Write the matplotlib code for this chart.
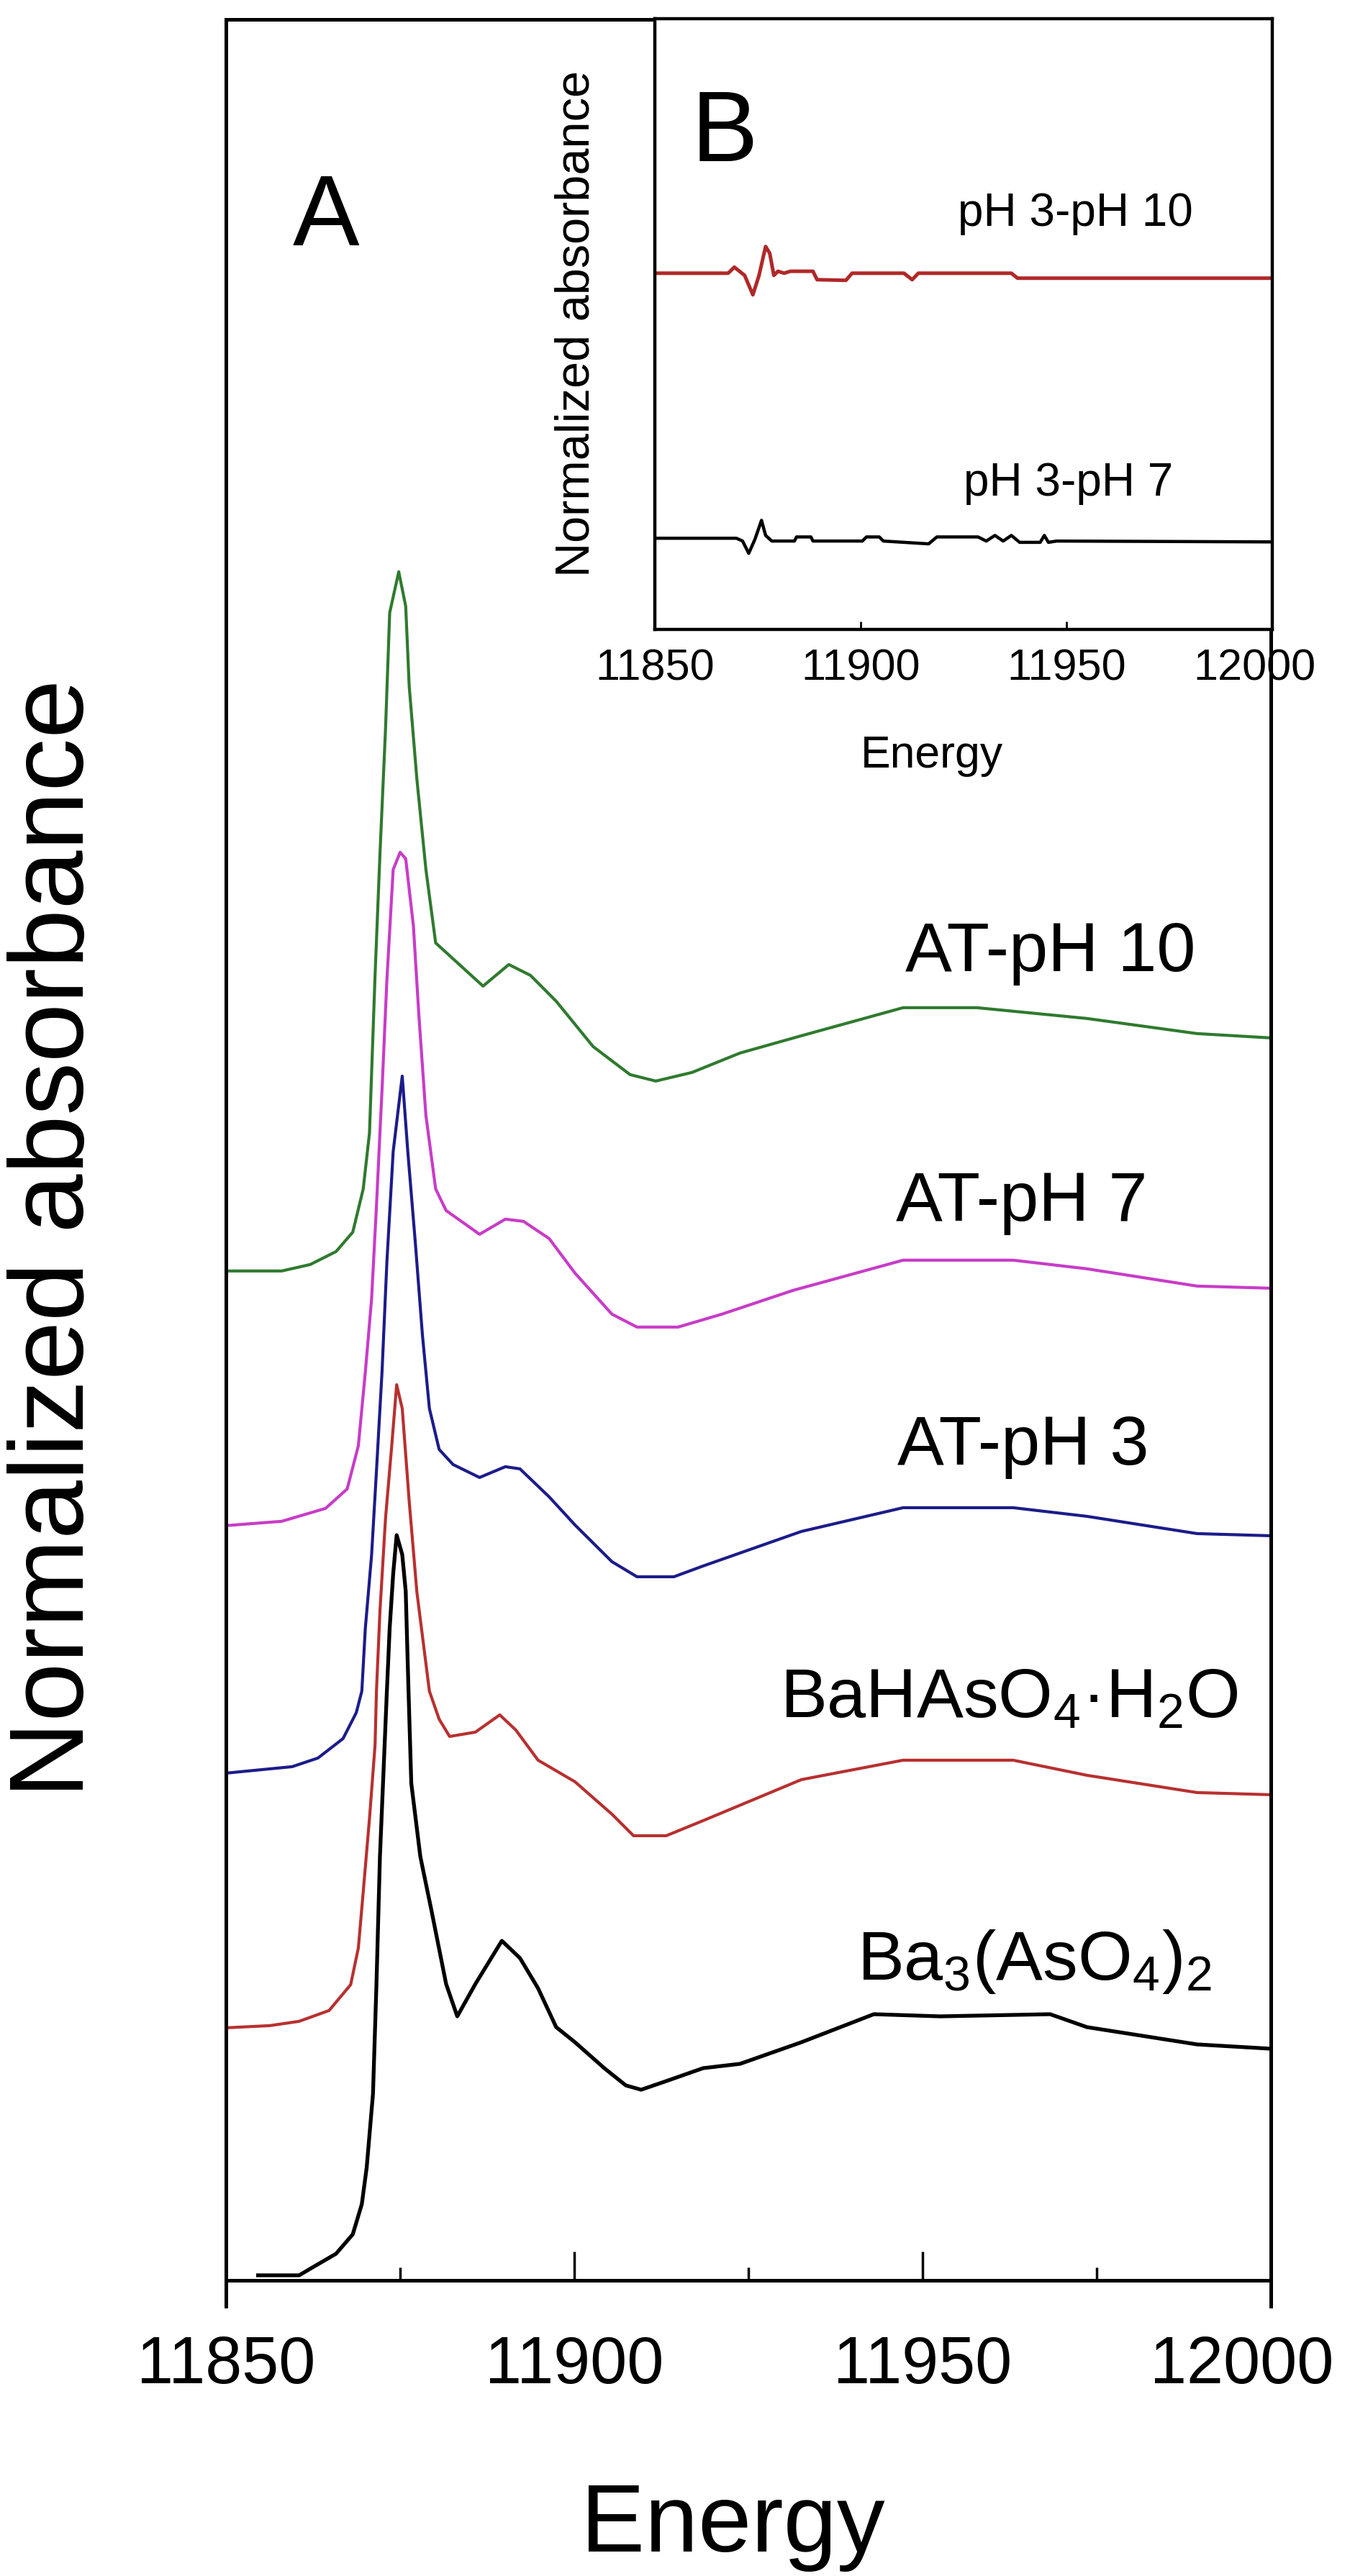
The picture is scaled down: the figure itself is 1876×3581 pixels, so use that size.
# As K-edge XANES, stacked spectra + difference inset

import numpy as np
import matplotlib
matplotlib.use('Agg')
import matplotlib.pyplot as plt
import matplotlib.transforms as mtransforms

plt.rcParams['font.family'] = ['Liberation Sans', 'DejaVu Sans']
plt.rcParams['mathtext.default'] = 'regular'

# ---- main panel data (energy in eV, absorbance above each baseline) ----
green_E = [11850, 11858, 11862.1, 11865.8, 11868.2, 11869.7, 11870.6, 11871.4, 11872.1, 11872.9,
           11873.5, 11874.8, 11875.8, 11876.3, 11877.4, 11878.7, 11880.1, 11886.9, 11890.6, 11893.7,
           11897.4, 11902.7, 11908.0, 11911.7, 11916.9, 11923.8, 11932.6, 11947.2, 11957.8, 11973.6,
           11989.4, 12000]
green_A = [0, 0, 0.03, 0.09, 0.18, 0.38, 0.64, 1.37, 1.93, 2.51, 3.05, 3.24, 3.08, 2.71, 2.28, 1.86,
           1.52, 1.32, 1.42, 1.37, 1.25, 1.04, 0.91, 0.88, 0.92, 1.01, 1.09, 1.22, 1.22, 1.17, 1.10, 1.08]

magenta_E = [11850, 11858, 11864.3, 11867.4, 11869.0, 11870.0, 11870.9, 11871.6, 11872.1, 11872.4,
             11873.1, 11874.0, 11875.0, 11875.8, 11876.9, 11877.7, 11878.7, 11880.1, 11881.6, 11886.4,
             11890.1, 11892.7, 11896.4, 11900.1, 11905.4, 11909.0, 11914.9, 11921.2, 11931.4, 11947.2,
             11963.0, 11973.6, 11989.4, 12000]
magenta_A = [0, 0.02, 0.08, 0.17, 0.37, 0.71, 1.05, 1.48, 1.82, 2.02, 2.53, 3.04, 3.12, 3.09, 2.78, 2.36,
             1.90, 1.56, 1.46, 1.35, 1.42, 1.41, 1.33, 1.17, 0.98, 0.92, 0.92, 0.98, 1.09, 1.23, 1.23,
             1.19, 1.11, 1.10]

blue_E = [11850, 11859.5, 11863.2, 11866.8, 11868.7, 11869.5, 11870.0, 11870.9, 11871.6, 11872.4,
          11873.1, 11874.0, 11875.3, 11876.1, 11877.2, 11878.2, 11879.2, 11880.6, 11882.6, 11886.4,
          11890.1, 11892.2, 11896.4, 11900.1, 11905.4, 11909.0, 11914.3, 11918.5, 11932.6, 11947.2,
          11963.0, 11973.6, 11989.4, 12000]
blue_A = [0, 0.03, 0.07, 0.16, 0.28, 0.38, 0.67, 1.01, 1.40, 1.86, 2.37, 2.88, 3.23, 2.88, 2.45, 2.03,
          1.69, 1.50, 1.43, 1.37, 1.42, 1.41, 1.28, 1.15, 0.98, 0.91, 0.91, 0.96, 1.12, 1.23, 1.23,
          1.19, 1.11, 1.10]

red_E = [11850, 11856.3, 11860.5, 11864.8, 11867.9, 11869.0, 11869.7, 11870.6, 11871.4, 11871.6,
         11872.1, 11872.9, 11873.8, 11874.5, 11875.3, 11876.3, 11877.4, 11879.2, 11880.6, 11882.1,
         11885.8, 11889.3, 11891.6, 11894.8, 11900.1, 11905.4, 11908.5, 11913.2, 11918.5, 11932.6,
         11947.2, 11963.0, 11973.6, 11989.4, 12000]
red_A = [0, 0.01, 0.03, 0.08, 0.20, 0.37, 0.63, 0.97, 1.31, 1.56, 1.93, 2.36, 2.70, 2.98, 2.87, 2.44,
         2.02, 1.56, 1.43, 1.35, 1.37, 1.45, 1.38, 1.24, 1.14, 0.99, 0.89, 0.89, 0.96, 1.15, 1.24,
         1.24, 1.17, 1.09, 1.08]

black_E = [11854.6, 11860.5, 11862.6, 11865.8, 11868.2, 11869.5, 11870.2, 11871.1, 11871.6, 11872.1,
           11873.1, 11873.5, 11874.0, 11874.5, 11875.3, 11875.8, 11876.2, 11876.6, 11877.9, 11879.5,
           11881.6, 11883.2, 11885.8, 11889.6, 11892.2, 11894.8, 11897.4, 11900.1, 11904.3, 11907.4,
           11909.6, 11913.2, 11918.5, 11923.8, 11932.6, 11943.0, 11952.5, 11968.3, 11973.6, 11989.4,
           12000]
black_A = [0, 0, 0.04, 0.10, 0.19, 0.33, 0.50, 0.84, 1.35, 1.94, 2.71, 3.00, 3.25, 3.43, 3.34, 3.17,
           2.71, 2.28, 1.94, 1.69, 1.35, 1.20, 1.35, 1.55, 1.47, 1.33, 1.15, 1.08, 0.96, 0.88, 0.86,
           0.90, 0.96, 0.98, 1.08, 1.21, 1.20, 1.21, 1.15, 1.07, 1.05]

offsets = [4.677, 3.497, 2.35, 1.17, 0.023]
colors = ['#2f7a2f', '#c83cc8', '#1c1c8a', '#b83030', 'black']
widths = [3.0, 3.0, 3.0, 3.0, 3.8]

# ---- inset data (difference spectra) ----
d10_E = [11850, 11867.8, 11869.3, 11871.8, 11873.8, 11875.3, 11876.9, 11877.9, 11878.9, 11879.9,
         11881.4, 11882.9, 11888.4, 11889.4, 11896.4, 11897.9, 11910.5, 11912.5, 11914.0, 11936.6,
         11938.1, 12000]
d10_A = [0, 0, 0.028, -0.01, -0.10, -0.01, 0.124, 0.092, -0.01, 0.009, 0, 0.009, 0.009, -0.03,
         -0.033, 0, 0, -0.03, 0, 0, -0.023, -0.023]

d7_E = [11850, 11869.8, 11871.3, 11872.8, 11874.3, 11875.9, 11876.9, 11878.4, 11883.9, 11884.4,
        11887.9, 11888.4, 11900.4, 11901.4, 11904.5, 11905.5, 11916.5, 11918.5, 11928.5, 11930.5,
        11932.6, 11934.6, 11936.6, 11938.6, 11943.6, 11944.6, 11945.6, 11947.6, 12000]
d7_A = [0.005, 0.005, -0.008, -0.065, 0.0, 0.088, 0.018, -0.008, -0.008, 0.011, 0.011, -0.008,
        -0.008, 0.011, 0.011, -0.008, -0.021, 0.011, 0.011, -0.008, 0.018, -0.008, 0.018, -0.014,
        -0.014, 0.018, -0.014, -0.008, -0.012]

fig = plt.figure(figsize=(18.76, 35.81), dpi=100)

# main panel
ax = fig.add_axes([0.1674, 0.1148, 0.774, 0.8777])
for E, A, off, c, lw in zip([green_E, magenta_E, blue_E, red_E, black_E],
                            [green_A, magenta_A, blue_A, red_A, black_A],
                            offsets, colors, widths):
    ax.plot(E, np.array(A) + off, color=c, lw=lw)

ax.set_xlim(11850, 12000)
ax.set_ylim(0, 10.477)
ax.set_xticks([11850, 11900, 11950, 12000])
ax.set_xticks([11875, 11925, 11975], minor=True)
ax.set_yticks([])
ax.tick_params(axis='x', which='major', direction='in', length=29, width=2.5,
               labelsize=66, pad=55)
ax.tick_params(axis='x', which='minor', direction='in', length=13, width=2.5)
for s in ax.spines.values():
    s.set_linewidth(3.6)
ax.spines['left'].set_bounds(-0.12, 10.477)
ax.spines['right'].set_bounds(-0.12, 10.477)

# last tick label sits a bit to the left so it stays inside the figure
lab = ax.get_xticklabels()[-1]
lab.set_transform(lab.get_transform() + mtransforms.ScaledTranslation(-0.40, 0, fig.dpi_scale_trans))

ax.set_xlabel('Energy', fontsize=96)
ax.xaxis.label.set_va('baseline')
ax.xaxis.set_label_coords(0.485, -0.12)
ax.set_ylabel('Normalized absorbance', fontsize=106)
ax.yaxis.label.set(ha='center', va='center')
ax.yaxis.set_label_coords(-0.1625, 0.4607)

ax.text(0.064, 0.90, 'A', transform=ax.transAxes, fontsize=100, va='baseline')

lab_kw = dict(fontsize=70, ha='left', va='baseline')
ax.text(11947.5, 6.067, 'AT-pH 10', **lab_kw)
ax.text(11946.2, 4.91, 'AT-pH 7', **lab_kw)
ax.text(11946.4, 3.78, 'AT-pH 3', **lab_kw)
ax.text(11929.5, 2.607, 'BaHAsO$_4$·H$_2$O', **lab_kw)
ax.text(11940.6, 1.393, 'Ba$_3$(AsO$_4$)$_2$', **lab_kw)

# inset B
axin = fig.add_axes([0.4851, 0.7557, 0.4574, 0.2371])
axin.plot(d10_E, np.array(d10_A) + 1.65, color='#b02828', lw=3.6)
axin.plot(d7_E, np.array(d7_A) + 0.417, color='black', lw=3.2)
axin.set_xlim(11850, 12000)
axin.set_ylim(0, 2.83)
axin.set_xticks([11850, 11900, 11950, 12000])
axin.set_yticks([])
axin.tick_params(axis='x', direction='in', length=8, width=2, labelsize=44, pad=19)
for s in axin.spines.values():
    s.set_linewidth(3.2)
lab = axin.get_xticklabels()[-1]
lab.set_transform(lab.get_transform() + mtransforms.ScaledTranslation(-0.25, 0, fig.dpi_scale_trans))

axin.set_xlabel('Energy', fontsize=45)
axin.xaxis.label.set_va('baseline')
axin.xaxis.set_label_coords(0.449, -0.226)
axin.set_ylabel('Normalized absorbance', fontsize=48)
axin.yaxis.label.set(ha='center', va='center')
axin.yaxis.set_label_coords(-0.127, 0.50)

axin.text(0.059, 0.767, 'B', transform=axin.transAxes, fontsize=100, va='baseline')
axin.text(0.491, 0.661, 'pH 3-pH 10', transform=axin.transAxes, fontsize=46, va='baseline')
axin.text(0.50, 0.219, 'pH 3-pH 7', transform=axin.transAxes, fontsize=46, va='baseline')

fig.savefig('out.png', dpi=100)
